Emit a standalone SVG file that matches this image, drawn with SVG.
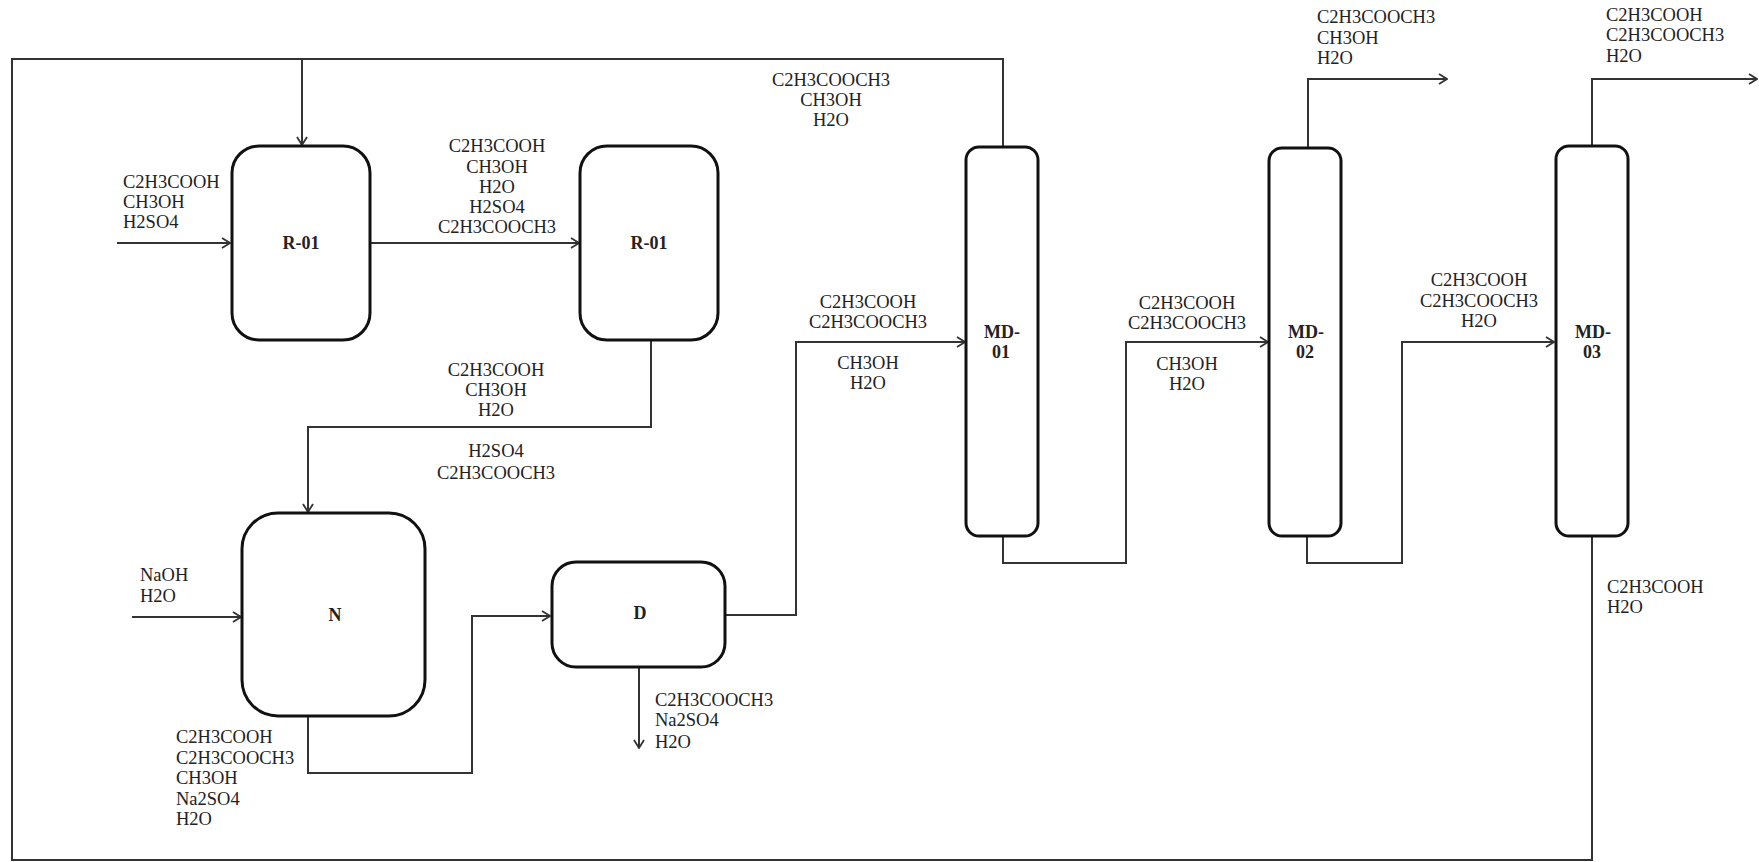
<svg xmlns="http://www.w3.org/2000/svg" width="1759" height="862" viewBox="0 0 1759 862">
<defs>
<style>
.box{fill:#fff;stroke:#111;stroke-width:3}
.ln{fill:none;stroke:#333;stroke-width:2}
.t{font-family:"Liberation Serif","Times New Roman",serif;font-size:18.5px;fill:#222}
.m{text-anchor:middle}
.b{font-family:"Liberation Serif","Times New Roman",serif;font-size:18px;font-weight:bold;fill:#222;text-anchor:middle}
</style>
<marker id="ah" markerWidth="10" markerHeight="12" refX="9" refY="6" orient="auto" markerUnits="userSpaceOnUse">
<path d="M1,1 L9,6 L1,11" fill="none" stroke="#333" stroke-width="1.8"/>
</marker>
</defs>
<rect width="1759" height="862" fill="#fff"/>

<g id="connectors">
<path class="ln" d="M1592,536 V860 H12 V59 H1003 V147"/>
<path class="ln" d="M302,59 V145" marker-end="url(#ah)"/>
<path class="ln" d="M117,243 H230" marker-end="url(#ah)"/>
<path class="ln" d="M370,243 H579" marker-end="url(#ah)"/>
<path class="ln" d="M651,339 V427 H308 V512" marker-end="url(#ah)"/>
<path class="ln" d="M132,617 H241" marker-end="url(#ah)"/>
<path class="ln" d="M308,716 V773 H472 V616 H550" marker-end="url(#ah)"/>
<path class="ln" d="M639,667 V748" marker-end="url(#ah)"/>
<path class="ln" d="M725,615 H796 V342 H965" marker-end="url(#ah)"/>
<path class="ln" d="M1003,536 V563 H1126 V342 H1268" marker-end="url(#ah)"/>
<path class="ln" d="M1308,148 V79 H1447" marker-end="url(#ah)"/>
<path class="ln" d="M1307,536 V563 H1402 V342 H1554" marker-end="url(#ah)"/>
<path class="ln" d="M1592,146 V79 H1757" marker-end="url(#ah)"/>
</g>

<g id="R-01a">
<rect class="box" x="232" y="146" width="138" height="194" rx="27"/>
<text class="b" x="301" y="249">R-01</text>
</g>
<g id="R-01b">
<rect class="box" x="580" y="146" width="138" height="194" rx="27"/>
<text class="b" x="649" y="249">R-01</text>
</g>
<g id="N">
<rect class="box" x="242" y="513" width="183" height="203" rx="36"/>
<text class="b" x="335" y="621">N</text>
</g>
<g id="D">
<rect class="box" x="552" y="562" width="173" height="105" rx="24"/>
<text class="b" x="640" y="619">D</text>
</g>
<g id="MD-01">
<rect class="box" x="966" y="147" width="72" height="389" rx="13"/>
<text class="b" x="1002" y="338">MD-</text>
<text class="b" x="1001" y="358">01</text>
</g>
<g id="MD-02">
<rect class="box" x="1269" y="148" width="72" height="388" rx="13"/>
<text class="b" x="1306" y="338">MD-</text>
<text class="b" x="1305" y="358">02</text>
</g>
<g id="MD-03">
<rect class="box" x="1556" y="146" width="72" height="390" rx="13"/>
<text class="b" x="1593" y="338">MD-</text>
<text class="b" x="1592" y="358">03</text>
</g>

<g id="labels">
<text class="t" x="123" y="188">C2H3COOH</text>
<text class="t" x="123" y="208">CH3OH</text>
<text class="t" x="123" y="228">H2SO4</text>

<text class="t m" x="497" y="152">C2H3COOH</text>
<text class="t m" x="497" y="172.5">CH3OH</text>
<text class="t m" x="497" y="193">H2O</text>
<text class="t m" x="497" y="213">H2SO4</text>
<text class="t m" x="497" y="233">C2H3COOCH3</text>

<text class="t m" x="496" y="376">C2H3COOH</text>
<text class="t m" x="496" y="396">CH3OH</text>
<text class="t m" x="496" y="416">H2O</text>
<text class="t m" x="496" y="457">H2SO4</text>
<text class="t m" x="496" y="479">C2H3COOCH3</text>

<text class="t" x="140" y="581">NaOH</text>
<text class="t" x="140" y="602">H2O</text>

<text class="t" x="176" y="743">C2H3COOH</text>
<text class="t" x="176" y="763.5">C2H3COOCH3</text>
<text class="t" x="176" y="784">CH3OH</text>
<text class="t" x="176" y="804.5">Na2SO4</text>
<text class="t" x="176" y="825">H2O</text>

<text class="t" x="655" y="706">C2H3COOCH3</text>
<text class="t" x="655" y="726">Na2SO4</text>
<text class="t" x="655" y="748">H2O</text>

<text class="t m" x="831" y="85.5">C2H3COOCH3</text>
<text class="t m" x="831" y="106">CH3OH</text>
<text class="t m" x="831" y="126">H2O</text>

<text class="t m" x="868" y="308">C2H3COOH</text>
<text class="t m" x="868" y="328">C2H3COOCH3</text>
<text class="t m" x="868" y="369">CH3OH</text>
<text class="t m" x="868" y="389">H2O</text>

<text class="t m" x="1187" y="309">C2H3COOH</text>
<text class="t m" x="1187" y="329">C2H3COOCH3</text>
<text class="t m" x="1187" y="370">CH3OH</text>
<text class="t m" x="1187" y="390">H2O</text>

<text class="t" x="1317" y="23">C2H3COOCH3</text>
<text class="t" x="1317" y="43.5">CH3OH</text>
<text class="t" x="1317" y="63.5">H2O</text>

<text class="t m" x="1479" y="286">C2H3COOH</text>
<text class="t m" x="1479" y="306.5">C2H3COOCH3</text>
<text class="t m" x="1479" y="326.5">H2O</text>

<text class="t" x="1606" y="21">C2H3COOH</text>
<text class="t" x="1606" y="41">C2H3COOCH3</text>
<text class="t" x="1606" y="62">H2O</text>

<text class="t" x="1607" y="592.5">C2H3COOH</text>
<text class="t" x="1607" y="612.5">H2O</text>
</g>
</svg>
